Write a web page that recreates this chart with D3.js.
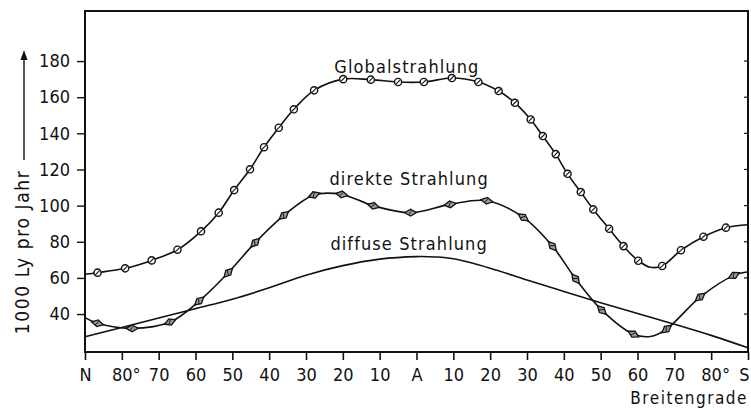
<!DOCTYPE html>
<html><head><meta charset="utf-8">
<script src="https://cdn.jsdelivr.net/npm/d3@7"></script>
<style>
html,body{margin:0;padding:0;background:#fff;}
svg text{font-family:"DejaVu Sans Condensed","DejaVu Sans",sans-serif;fill:#111;}
</style></head>
<body><svg id="c" width="751" height="410"></svg>
<script>
// ---- data ----
const latTicks = [90,80,70,60,50,40,30,20,10,0,-10,-20,-30,-40,-50,-60,-70,-80,-90];
const latTickLabels = ["N","80°","70","60","50","40","30","20","10","A","10","20","30","40","50","60","70","80°","S"];
const yTicks = [40,60,80,100,120,140,160,180];

const globalLat = [90,86.6,79.1,71.9,64.9,58.5,53.7,49.5,45.2,41.4,37.4,33.3,27.8,19.9,12.4,5.0,-2.0,-9.6,-16.8,-22.3,-26.7,-31.0,-34.3,-37.8,-41.0,-44.6,-48.0,-52.3,-56.2,-60.2,-63.5,-66.7,-71.8,-77.9,-84.0,-90];
const globalVal = [62.0,62.9,65.3,69.7,75.6,85.8,96.1,108.6,120.1,132.3,143.1,153.3,163.8,170.0,169.7,168.4,168.4,170.6,168.4,163.4,156.9,147.7,138.5,128.5,117.6,107.5,97.9,87.2,77.6,69.5,65.9,66.6,75.3,82.8,87.8,89.4];
const globalMarked = [0,1,1,1,1,1,1,1,1,1,1,1,1,1,1,1,1,1,1,1,1,1,1,1,1,1,1,1,1,1,0,1,1,1,1,0];

const direktLat = [90,86.6,77.2,66.9,59.0,51.1,43.8,36.0,27.8,20.3,11.7,1.6,-9.1,-19.1,-29.0,-36.9,-43.2,-50.3,-58.9,-63.5,-67.9,-77.0,-86.2,-90];
const direktVal = [38.0,34.9,32.1,35.6,47.2,62.9,79.5,94.6,105.9,106.2,99.9,96.1,100.7,102.7,93.5,77.6,59.5,42.2,28.9,27.6,31.7,49.4,61.4,63.4];
const direktMarked = [0,1,1,1,1,1,1,1,1,1,1,1,1,1,1,1,1,1,1,0,1,1,1,0];

const diffusLat = [90,80,70,60,50,40,30,20,10,0,-5,-10,-20,-30,-40,-50,-60,-70,-80,-90];
const diffusVal = [27.4,32.6,37.8,43.0,48.2,54.5,61.5,66.8,70.4,71.8,71.6,70.6,65.4,58.8,52.5,46.3,40.3,34.4,28.2,21.3];

const seriesLabels = ["Globalstrahlung","direkte Strahlung","diffuse Strahlung"];
const labelLat = [2.6, 2.0, 2.0];
const labelVal = [173.6, 111.5, 75.5];

const yTitle = "1000 Ly pro Jahr";
const xTitle = "Breitengrade";

// ---- chart ----
const svg = d3.select("#c");
const x = d3.scaleLinear().domain([90,-90]).range([85,748]);
const y = d3.scaleLinear().domain([19,207.7]).range([352,11]);

// frame
svg.append("rect").attr("x",x(90)).attr("y",y(207.7)).attr("width",x(-90)-x(90)).attr("height",y(19)-y(207.7))
  .attr("fill","none").attr("stroke","#111").attr("stroke-width",2);

// y axis
const yAxis = svg.append("g").attr("transform",`translate(${x(90)},0)`)
  .call(d3.axisLeft(y).tickValues(yTicks).tickSize(8).tickPadding(7).tickFormat(d3.format("d")));
yAxis.select(".domain").remove();
yAxis.selectAll("line").attr("stroke","#111").attr("stroke-width",1.4);
yAxis.selectAll("text").attr("font-size",18).attr("fill","#111");
// right inner ticks
svg.append("g").selectAll("line").data(yTicks).join("line")
  .attr("x1",x(-90)).attr("x2",x(-90)-4).attr("y1",d=>y(d)).attr("y2",d=>y(d)).attr("stroke","#111").attr("stroke-width",1.2);

// x axis
const xAxis = svg.append("g").attr("transform",`translate(0,${y(19)})`)
  .call(d3.axisBottom(x).tickValues(latTicks).tickSize(8).tickPadding(8).tickFormat((d,i)=>latTickLabels[i]));
xAxis.select(".domain").remove();
xAxis.selectAll("line").attr("stroke","#111").attr("stroke-width",1.6);
xAxis.selectAll("text").attr("font-size",18).attr("fill","#111")
  .attr("dx",(d,i)=>latTickLabels[i].includes("°")?4:(i===latTicks.length-1?-4:0));

// titles
svg.append("text").attr("x",748).attr("y",404).attr("text-anchor","end").attr("font-size",17)
  .attr("letter-spacing",1.5).text(xTitle);
svg.append("text").attr("transform","translate(29,252) rotate(-90)").attr("text-anchor","middle")
  .attr("font-size",19).attr("letter-spacing",1.6).text(yTitle);
svg.append("line").attr("x1",24).attr("x2",24).attr("y1",160).attr("y2",58).attr("stroke","#111").attr("stroke-width",1.4);
svg.append("path").attr("d","M24,50 L20.5,60 L27.5,60 Z").attr("fill","#111");

// lines
const line = d3.line().x(d=>x(d[0])).y(d=>y(d[1])).curve(d3.curveCatmullRom.alpha(0.5));
const gD = diffusLat.map((l,i)=>[l,diffusVal[i]]);
const gG = globalLat.map((l,i)=>[l,globalVal[i],globalMarked[i]]);
const gR = direktLat.map((l,i)=>[l,direktVal[i],direktMarked[i]]);
[gD,gG,gR].forEach(s=>{
  svg.append("path").attr("d",line(s)).attr("fill","none").attr("stroke","#111").attr("stroke-width",1.6);
});

function angleAt(arr,i){
  const a = arr[Math.max(0,i-1)], b = arr[Math.min(arr.length-1,i+1)];
  return Math.atan2(y(b[1])-y(a[1]), x(b[0])-x(a[0]))*180/Math.PI;
}
// global markers: circles with slash
const gm = svg.append("g");
gG.forEach((d,i)=>{
  if(!d[2]) return;
  const g = gm.append("g").attr("transform",`translate(${x(d[0])},${y(d[1])})`);
  g.append("circle").attr("r",3.6).attr("fill","#fff").attr("stroke","#111").attr("stroke-width",1.4);
  g.append("line").attr("x1",-2.2).attr("y1",2.2).attr("x2",2.2).attr("y2",-2.2).attr("stroke","#111").attr("stroke-width",1.1);
});
// direkt markers: hatched diamonds along the line
const dm = svg.append("g");
gR.forEach((d,i)=>{
  if(!d[2]) return;
  const g = dm.append("g").attr("transform",`translate(${x(d[0])},${y(d[1])}) rotate(${angleAt(gR,i)})`);
  g.append("path").attr("d","M-6,0 L0,-3.4 L6,0 L0,3.4 Z").attr("fill","#999").attr("stroke","#111").attr("stroke-width",1.3);
  g.append("line").attr("x1",-2).attr("y1",2).attr("x2",1).attr("y2",-2).attr("stroke","#111").attr("stroke-width",0.9);
});

// series labels
seriesLabels.forEach((t,i)=>{
  svg.append("text").attr("x",x(labelLat[i])).attr("y",y(labelVal[i])).attr("text-anchor","middle")
    .attr("font-size",18).attr("letter-spacing",1.1).text(t);
});
</script></body></html>
